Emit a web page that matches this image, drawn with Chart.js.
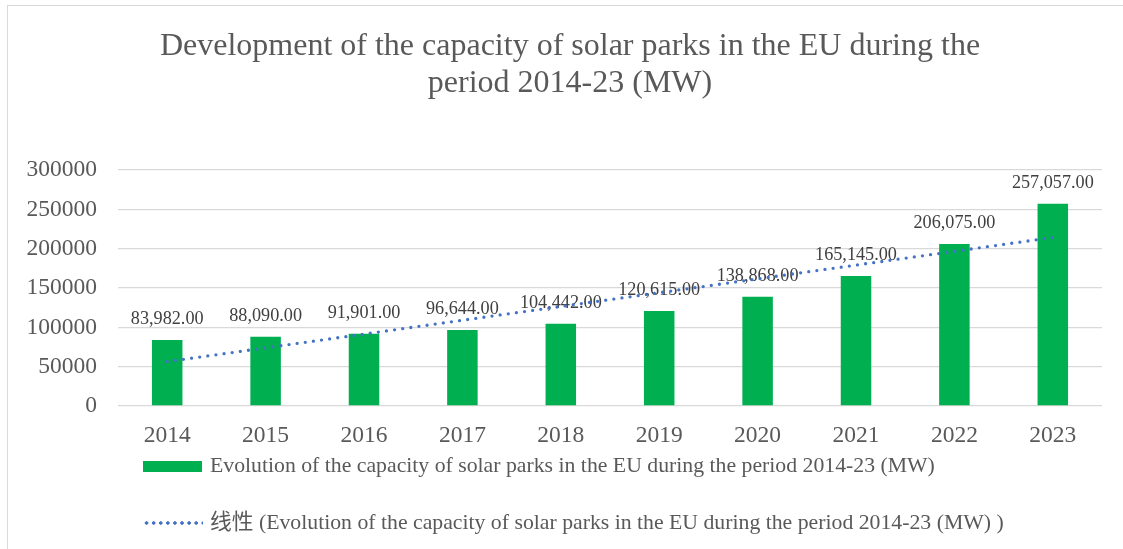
<!DOCTYPE html>
<html>
<head>
<meta charset="utf-8">
<title>Solar parks EU</title>
<script src="https://cdn.jsdelivr.net/npm/chart.js@4/dist/chart.umd.min.js"></script>
<style>
  html, body { margin: 0; padding: 0; background: #fff; overflow: hidden; }
  #wrap { position: relative; width: 1123px; height: 549px; }
  #frame {
    position: absolute; left: 7px; top: 5px; width: 1300px; height: 700px;
    border-left: 1.5px solid #d9d9d9; border-top: 1.5px solid #d9d9d9;
    pointer-events: none;
  }
  #title {
    position: absolute; left: 0; top: 25.7px; width: 1140px; text-align: center;
    font-family: 'Liberation Serif', 'Times New Roman', serif;
    font-size: 32px; line-height: 37px; color: #595959;
  }
  .legend-row {
    position: absolute; left: 143px;
    font-family: 'Liberation Serif', 'Noto Sans CJK SC', serif;
    font-size: 21.75px; line-height: 26px; color: #595959; white-space: nowrap;
  }
  .legend-row span.txt { position: absolute; left: 67px; top: 0; }
  .swatch-bar { position: absolute; left: 0; top: 9px; width: 59px; height: 11px; background: #00B050; }
  .swatch-dot {
    position: absolute; left: 0; top: 12px; width: 60px; height: 4px;
    background: radial-gradient(circle at center, #4472C4 1.5px, transparent 1.9px);
    background-size: 7.1px 4px;
  }
</style>
</head>
<body>
<div id="wrap">
  <canvas id="chart" width="1123" height="549"></canvas>
  <div id="frame"></div>
  <div id="title">Development of the capacity of solar parks in the EU during the<br>period 2014-23 (MW)</div>
  <div class="legend-row" style="top:452px">
    <div class="swatch-bar"></div>
    <span class="txt">Evolution of the capacity of solar parks in the EU during the period 2014-23 (MW)</span>
  </div>
  <div class="legend-row" style="top:509px">
    <div class="swatch-dot"></div>
    <span class="txt">线性 (Evolution of the capacity of solar parks in the EU during the period 2014-23 (MW) )</span>
  </div>
</div>
<script>
// chart data
const years = ['2014', '2015', '2016', '2017', '2018', '2019', '2020', '2021', '2022', '2023'];
const capacity = [83982, 88090, 91901, 96644, 104442, 120615, 138868, 165145, 206075, 257057];
// linear trend
const trend = [56400, 73900, 91400, 109000, 126500, 144000, 161600, 179100, 196600, 214200];
const yTicks = [0, 50000, 100000, 150000, 200000, 250000, 300000];

const seriesName = 'Evolution of the capacity of solar parks in the EU during the period 2014-23 (MW)';
const serif = "'Liberation Serif', 'Times New Roman', serif";

// labels above the bars
const barLabels = {
  id: 'barLabels',
  afterDatasetDraw(chart, args) {
    if (args.index !== 0) return;
    const ctx = chart.ctx;
    ctx.save();
    ctx.font = '18.2px ' + serif;
    ctx.fillStyle = '#404040';
    ctx.textAlign = 'center';
    ctx.textBaseline = 'alphabetic';
    args.meta.data.forEach((bar, i) => {
      const txt = capacity[i].toLocaleString('en-US', { minimumFractionDigits: 2, maximumFractionDigits: 2 });
      ctx.fillText(txt, bar.x, bar.y - 16);
    });
    ctx.restore();
  }
};

new Chart(document.getElementById('chart'), {
  type: 'bar',
  data: {
    labels: years,
    datasets: [
      {
        label: seriesName,
        data: capacity,
        backgroundColor: '#00B050',
        categoryPercentage: 0.31,
        barPercentage: 1,
        order: 1
      },
      {
        label: '线性 (' + seriesName + ' )',
        type: 'line',
        data: trend,
        borderColor: '#4472C4',
        borderWidth: 3.3,
        borderDash: [0, 8.2],
        borderCapStyle: 'round',
        pointRadius: 0,
        fill: false,
        tension: 0,
        order: 0
      }
    ]
  },
  options: {
    responsive: false,
    animation: false,
    events: [],
    layout: { padding: { left: 10, right: 21, top: 170, bottom: 82.8 } },
    plugins: {
      legend: { display: false },
      tooltip: { enabled: false },
      title: { display: false }
    },
    scales: {
      x: {
        grid: { display: false, drawTicks: false },
        border: { display: false },
        ticks: {
          color: '#595959',
          padding: 16,
          font: { family: serif, size: 23.5, lineHeight: 1.2 }
        }
      },
      y: {
        min: 0,
        max: 300000,
        afterFit(scale) { scale.width = 108; },
        afterBuildTicks(scale) { scale.ticks = yTicks.map(v => ({ value: v })); },
        grid: { color: '#d9d9d9', lineWidth: 1.3, drawTicks: false },
        border: { display: false },
        ticks: {
          color: '#595959',
          padding: 21,
          font: { family: serif, size: 23.5 },
          callback: v => String(v)
        }
      }
    }
  },
  plugins: [barLabels]
});
</script>
</body>
</html>
